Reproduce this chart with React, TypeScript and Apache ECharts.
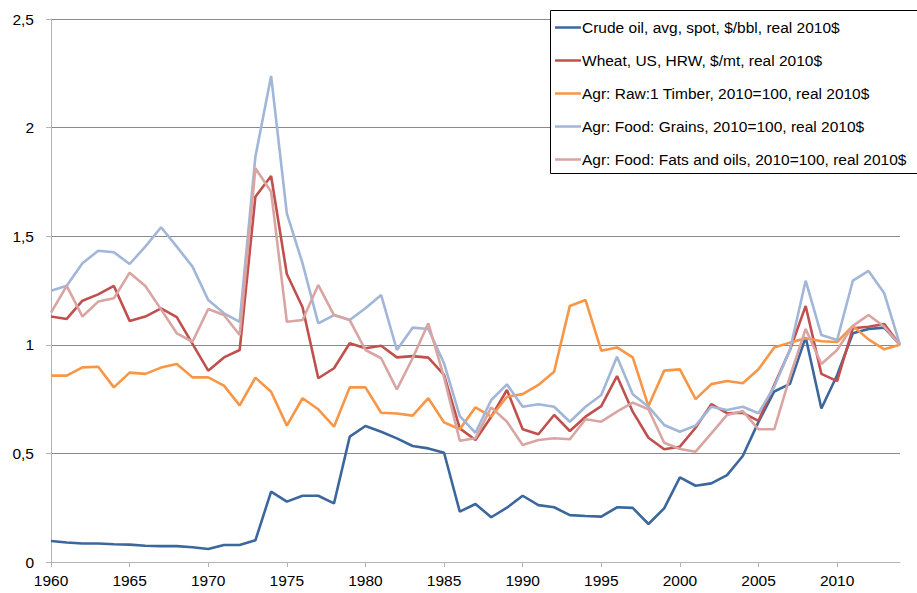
import React, { useEffect, useRef } from "react";
import * as echarts from "echarts";

const years = [
  1960, 1961, 1962, 1963, 1964, 1965, 1966, 1967, 1968, 1969,
  1970, 1971, 1972, 1973, 1974, 1975, 1976, 1977, 1978, 1979,
  1980, 1981, 1982, 1983, 1984, 1985, 1986, 1987, 1988, 1989,
  1990, 1991, 1992, 1993, 1994, 1995, 1996, 1997, 1998, 1999,
  2000, 2001, 2002, 2003, 2004, 2005, 2006, 2007, 2008, 2009,
  2010, 2011, 2012, 2013, 2014,
];

const crudeOil = [
  0.097, 0.09, 0.085, 0.085, 0.082, 0.08, 0.075, 0.073, 0.073, 0.068,
  0.06, 0.078, 0.078, 0.1, 0.324, 0.278, 0.305, 0.305, 0.27, 0.577,
  0.626, 0.6, 0.569, 0.534, 0.523, 0.503, 0.232, 0.267, 0.206, 0.25,
  0.305, 0.262, 0.252, 0.216, 0.212, 0.209, 0.252, 0.249, 0.175, 0.247,
  0.39, 0.351, 0.362, 0.4, 0.488, 0.645, 0.785, 0.82, 1.035, 0.707,
  0.86, 1.053, 1.073, 1.079, 1.0,
];

const wheat = [
  1.13, 1.119, 1.203, 1.232, 1.271, 1.11, 1.13, 1.168, 1.127, 1.004,
  0.881, 0.942, 0.976, 1.682, 1.777, 1.326, 1.173, 0.846, 0.892, 1.007,
  0.984, 0.996, 0.942, 0.948, 0.941, 0.861, 0.615, 0.562, 0.669, 0.792,
  0.611, 0.588, 0.677, 0.603, 0.669, 0.718, 0.856, 0.692, 0.572, 0.519,
  0.531, 0.618, 0.727, 0.685, 0.687, 0.65, 0.815, 0.976, 1.179, 0.866,
  0.833, 1.076, 1.083, 1.096, 1.0,
];

const timber = [
  0.858, 0.858, 0.896, 0.899, 0.804, 0.872, 0.866, 0.895, 0.912, 0.85,
  0.85, 0.812, 0.721, 0.849, 0.784, 0.628, 0.754, 0.703, 0.623, 0.804,
  0.804, 0.687, 0.684, 0.674, 0.754, 0.643, 0.611, 0.712, 0.669, 0.761,
  0.773, 0.815, 0.876, 1.179, 1.206, 0.973, 0.988, 0.942, 0.718, 0.881,
  0.887, 0.75, 0.819, 0.833, 0.823, 0.887, 0.988, 1.01, 1.03, 1.016,
  1.013, 1.087, 1.025, 0.979, 1.0,
];

const grains = [
  1.249, 1.272, 1.375, 1.433, 1.426, 1.372, 1.452, 1.541, 1.452, 1.36,
  1.206, 1.145, 1.106, 1.866, 2.238, 1.605, 1.375, 1.099, 1.137, 1.114,
  1.168, 1.229, 0.976, 1.079, 1.073, 0.915, 0.672, 0.595, 0.746, 0.818,
  0.715, 0.726, 0.715, 0.646, 0.715, 0.769, 0.945, 0.772, 0.715, 0.631,
  0.6, 0.628, 0.715, 0.7, 0.715, 0.685, 0.807, 0.976, 1.295, 1.045,
  1.022, 1.295, 1.34, 1.237, 1.0,
];

const fatsOils = [
  1.148, 1.271, 1.13, 1.199, 1.214, 1.332, 1.271, 1.163, 1.053, 1.014,
  1.165, 1.137, 1.045, 1.813, 1.705, 1.106, 1.114, 1.275, 1.137, 1.114,
  0.976, 0.938, 0.795, 0.938, 1.099, 0.85, 0.558, 0.57, 0.712, 0.646,
  0.539, 0.562, 0.57, 0.565, 0.657, 0.646, 0.692, 0.734, 0.703, 0.549,
  0.52, 0.508, 0.592, 0.677, 0.695, 0.611, 0.611, 0.853, 1.073, 0.912,
  0.976, 1.087, 1.137, 1.083, 1.0,
];

const seriesNames = [
  "Crude oil, avg, spot, $/bbl, real 2010$",
  "Wheat, US, HRW, $/mt, real 2010$",
  "Agr: Raw:1 Timber, 2010=100, real 2010$",
  "Agr: Food: Grains, 2010=100, real 2010$",
  "Agr: Food: Fats and oils, 2010=100, real 2010$",
];

const seriesColors = ["#3b679c", "#c0504d", "#f79646", "#a2b6d8", "#d9a5a2"];

const FONT = "'Liberation Sans', Arial, sans-serif";

export default function App() {
  const ref = useRef<HTMLDivElement>(null);

  useEffect(() => {
    if (!ref.current) return;
    const chart = echarts.init(ref.current, undefined, { renderer: "svg" });
    const allData = [crudeOil, wheat, timber, grains, fatsOils];
    const border = { stroke: "#000000", lineWidth: 1 };
    chart.setOption({
      animation: false,
      backgroundColor: "#ffffff",
      textStyle: { fontFamily: FONT },
      grid: { left: 51, right: 17, top: 19, bottom: 31, containLabel: false },
      graphic: [
        {
          type: "rect",
          z: 3,
          silent: true,
          shape: { x: 550.5, y: 10.5, width: 400, height: 163 },
          style: { fill: "#ffffff" },
        },
        {
          type: "line",
          z: 4,
          silent: true,
          shape: { x1: 550.5, y1: 10.5, x2: 950, y2: 10.5 },
          style: border,
        },
        {
          type: "line",
          z: 4,
          silent: true,
          shape: { x1: 550.5, y1: 173.5, x2: 950, y2: 173.5 },
          style: border,
        },
        {
          type: "line",
          z: 4,
          silent: true,
          shape: { x1: 550.5, y1: 10.5, x2: 550.5, y2: 173.5 },
          style: border,
        },
      ],
      legend: {
        orient: "vertical",
        left: 551,
        top: 11,
        z: 5,
        padding: [8, 10, 7, 4],
        backgroundColor: "transparent",
        borderWidth: 0,
        icon: "rect",
        itemWidth: 26,
        itemHeight: 2.5,
        itemGap: 16,
        textStyle: {
          fontFamily: FONT,
          fontSize: 15.5,
          color: "#000000",
          padding: [0, 0, 0, -4],
          lineHeight: 17,
        },
        data: seriesNames,
      },
      xAxis: {
        type: "value",
        min: 1960,
        max: 2014,
        interval: 5,
        splitLine: { show: false },
        axisLine: { show: true, lineStyle: { color: "#b3b3b3", width: 1 } },
        axisTick: { show: true, length: 5, lineStyle: { color: "#b3b3b3" } },
        axisLabel: {
          color: "#000000",
          fontSize: 15.5,
          fontFamily: FONT,
          margin: 10,
          showMaxLabel: false,
          formatter: (v: number) => (v % 5 === 0 ? String(v) : ""),
        },
      },
      yAxis: {
        type: "value",
        min: 0,
        max: 2.5,
        interval: 0.5,
        splitLine: { show: true, lineStyle: { color: "#8a8a8a", width: 1 } },
        axisLine: { show: true, lineStyle: { color: "#b3b3b3", width: 1 } },
        axisTick: { show: true, length: 5, lineStyle: { color: "#b3b3b3" } },
        axisLabel: {
          color: "#000000",
          fontSize: 15.5,
          fontFamily: FONT,
          margin: 17,
          formatter: (v: number) => String(v).replace(".", ","),
        },
      },
      series: seriesNames.map((name, i) => ({
        name,
        type: "line",
        showSymbol: false,
        symbol: "none",
        color: seriesColors[i],
        lineStyle: { color: seriesColors[i], width: 2.6 },
        data: years.map((y, k) => [y, allData[i][k]]),
      })),
    });
    return () => chart.dispose();
  }, []);

  return (
    <div
      style={{
        position: "absolute",
        left: 0,
        top: 0,
        width: 917,
        height: 593,
        overflow: "hidden",
      }}
    >
      <div ref={ref} style={{ width: 917, height: 593 }} />
    </div>
  );
}
